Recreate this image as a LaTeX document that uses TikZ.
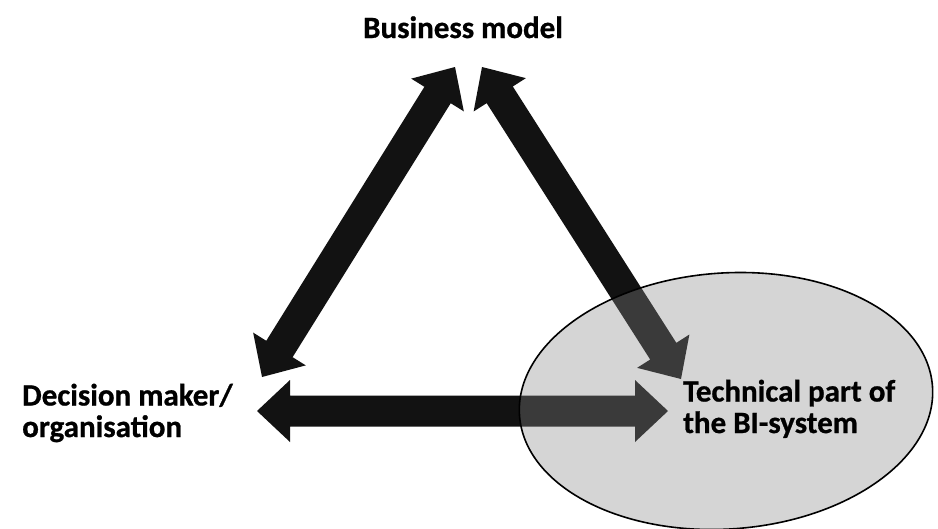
\documentclass[tikz,border=0pt]{standalone}
\usepackage{fontspec}
\setmainfont{Carlito}[BoldFeatures={FakeBold=0.8}]
\usetikzlibrary{calc,shapes.geometric}

% sizes of the block arrows
\newcommand\arrowHL{33pt}  % head length
\newcommand\arrowHW{31pt}  % half head width
\newcommand\arrowSW{15.5pt}% half shaft width

\tikzset{
  labeltext/.style={font=\bfseries\fontsize{31}{31.5}\selectfont, inner sep=0pt, text=black},
  blockfill/.style={fill=black!93},
  bisystem/.style={ellipse, draw=black, line width=1.6pt, fill=black!47,
    fill opacity=0.35, inner sep=0pt, minimum width=414pt, minimum height=256pt},
}

% double-headed block arrow between two named coordinates
\newcommand\dblarrow[2]{%
  \fill[blockfill]
    (#1)
    -- ($(#1)!\arrowHL!(#2)!\arrowHW!90:(#2)$)
    -- ($(#1)!\arrowHL!(#2)!\arrowSW!90:(#2)$)
    -- ($(#2)!\arrowHL!(#1)!\arrowSW!-90:(#1)$)
    -- ($(#2)!\arrowHL!(#1)!\arrowHW!-90:(#1)$)
    -- (#2)
    -- ($(#2)!\arrowHL!(#1)!\arrowHW!90:(#1)$)
    -- ($(#2)!\arrowHL!(#1)!\arrowSW!90:(#1)$)
    -- ($(#1)!\arrowHL!(#2)!\arrowSW!-90:(#2)$)
    -- ($(#1)!\arrowHL!(#2)!\arrowHW!-90:(#2)$)
    -- cycle;}

\begin{document}
\begin{tikzpicture}[x=1pt, y=-1pt]
  \fill[white] (0,0) rectangle (938,528);
  \useasboundingbox (0,0) rectangle (938,528);

  % arrow end points
  \coordinate (bmL) at (455,67);
  \coordinate (dmT) at (262,377);
  \coordinate (bmR) at (482,67);
  \coordinate (tpT) at (681,379);
  \coordinate (dmR) at (257,411);
  \coordinate (tpL) at (668,411);

  \dblarrow{bmL}{dmT}
  \dblarrow{bmR}{tpT}
  \dblarrow{dmR}{tpL}

  % translucent ellipse for the technical part
  \node[bisystem, rotate=4] (bi) at (726,401) {};

  \node[labeltext, anchor=base] (bm) at (463,38) {Business model};
  \node[labeltext, align=left, anchor=base west] (dm) at (22,437) {Decision maker/\\organisation};
  \node[labeltext, align=left, anchor=base west] (tp) at (683,433) {Technical part of\\the BI-system};
\end{tikzpicture}
\end{document}
